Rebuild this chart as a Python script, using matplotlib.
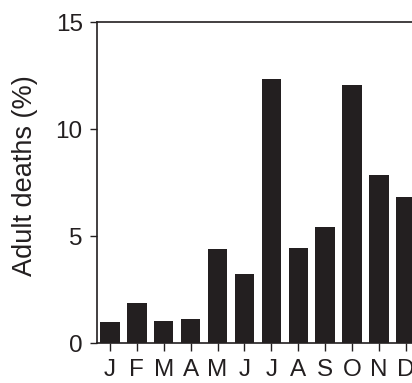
import matplotlib
matplotlib.use("Agg")
import matplotlib.pyplot as plt

months = ["J", "F", "M", "A", "M", "J", "J", "A", "S", "O", "N", "D"]
deaths = [1.0, 1.9, 1.05, 1.13, 4.39, 3.26, 12.37, 4.44, 5.45, 12.1, 7.87, 6.85]
yticks = [0, 5, 10, 15]

ink = "#231f20"
plt.rcParams["font.family"] = ["Liberation Sans", "DejaVu Sans"]

fig = plt.figure(figsize=(4.12, 3.83), dpi=100)
ax = fig.add_axes([96.6 / 412, 39.7 / 383, 322.6 / 412, 320.8 / 383])

x = list(range(len(months)))
ax.bar(x, deaths, width=0.72, color=ink, edgecolor="none")

ax.set_xlim(-0.5, 11.5)
ax.set_ylim(0, 15)
ax.set_xticks(x)
ax.set_xticklabels(months, fontsize=17.5, color=ink)
ax.set_yticks(yticks)
ax.set_yticklabels([str(v) for v in yticks], fontsize=17.5, color=ink)

ax.tick_params(axis="x", direction="out", length=6, width=1, pad=5.5, color=ink)
ax.tick_params(axis="y", direction="out", length=5, width=1, pad=5, color=ink)

for s in ["left", "bottom", "top"]:
    ax.spines[s].set_linewidth(1.2)
    ax.spines[s].set_color(ink)
ax.spines["right"].set_visible(False)

fig.text(25.5 / 412, 1 - 176 / 383, "Adult deaths (%)", rotation=90,
         ha="center", va="center", fontsize=19.5, color=ink)

fig.savefig("out.png", dpi=100)
